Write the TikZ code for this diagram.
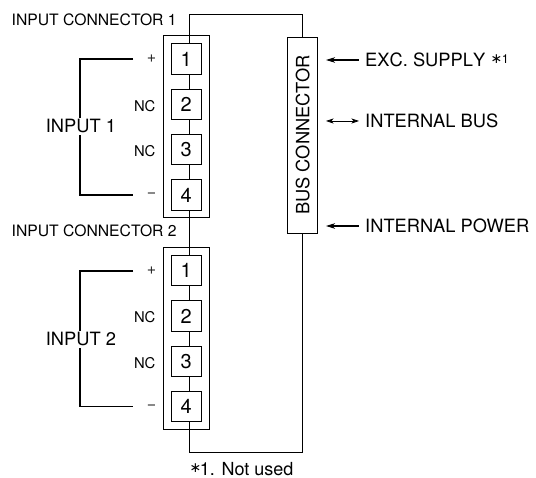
\documentclass[tikz,border=0pt]{standalone}
\usepackage{fontspec}
\setmainfont{TeX Gyre Heros}
\newfontfamily\symfont{DejaVu Sans}
\usetikzlibrary{arrows.meta}
\tikzset{
  x=1pt,y=-1pt,
  wire/.style={line width=0.75pt,black},
  bracket/.style={line width=1.15pt,black},
  pointer/.style={line width=1.1pt,black},
  conbox/.style={draw,line width=0.7pt,minimum width=46pt,minimum height=181.5pt,inner sep=0pt,outer sep=0pt,fill=white},
  termbox/.style={draw,line width=0.8pt,minimum width=30.5pt,minimum height=30.3pt,inner sep=0pt,outer sep=0pt,fill=white,font=\fontsize{20}{20}\selectfont},
  busbox/.style={draw,line width=0.75pt,minimum width=30.4pt,minimum height=196pt,inner sep=0pt,outer sep=0pt,fill=white},
  small/.style={anchor=base west,inner sep=0pt,font=\fontsize{15.7}{16}\selectfont},
  nc/.style={anchor=base east,inner sep=0pt,font=\fontsize{14.8}{15}\selectfont},
  sign/.style={inner sep=0pt,font=\fontsize{16}{16}\selectfont,text=black!85},
  big/.style={anchor=base west,inner sep=0pt,font=\fontsize{18.3}{19}\selectfont},
}
\newcommand{\starnote}{\raisebox{2.6pt}{\symfont\fontsize{14}{14}\selectfont ∗}}
\begin{document}
\begin{tikzpicture}
\useasboundingbox (0,0) rectangle (536,478);
% routing points
\coordinate (topL) at (189,14.5);
\coordinate (topR) at (302.7,14.5);
\coordinate (botL) at (189,452);
\coordinate (botR) at (302.7,452);
% main wire behind the boxes
\draw[wire] (botL) -- (topL) -- (topR);
\draw[wire] (botL) -- (botR) -- (topR);
% connector bodies with terminals
\node[conbox] (c1) at (186.3,126.5) {};
\node[conbox] (c2) at (186.3,338.5) {};
\draw[wire] (189,36) -- (189,217);
\draw[wire] (189,247.7) -- (189,429.3);
\node[termbox] (a1) at (186.3,59) {1};
\node[termbox] (a2) at (186.3,104.3) {2};
\node[termbox] (a3) at (186.3,149.5) {3};
\node[termbox] (a4) at (186.3,195) {4};
\node[termbox] (b1) at (186.3,270.7) {1};
\node[termbox] (b2) at (186.3,316) {2};
\node[termbox] (b3) at (186.3,361.2) {3};
\node[termbox] (b4) at (186.3,406.7) {4};
% bus connector
\node[busbox] (bus) at (302.5,135) {};
\node[rotate=90,inner sep=0pt,font=\fontsize{18.3}{19}\selectfont] (bustext) at (302.7,135) {BUS CONNECTOR};
% connector titles
\node[small] (t1) at (11.5,26) {INPUT CONNECTOR 1};
\node[small] (t2) at (11.5,237) {INPUT CONNECTOR 2};
% brackets
\coordinate (p1) at (133,59);
\coordinate (k1) at (80,59);
\coordinate (k2) at (80,195);
\coordinate (m1) at (133,195);
\coordinate (p2) at (133,271);
\coordinate (k3) at (80,271);
\coordinate (k4) at (80,406.5);
\coordinate (m2) at (133,406.5);
\draw[bracket] (p1) -- (k1) -- (k2) -- (m1);
\draw[bracket] (p2) -- (k3) -- (k4) -- (m2);
\node[big,fill=white,inner ysep=2pt] (i1) at (45.7,133) {INPUT 1};
\node[big,fill=white,inner ysep=2pt] (i2) at (45.7,346) {INPUT 2};
% pin labels
\node[sign] (s1) at (151.5,59) {+};
\node[sign] (s2) at (151.5,195.5) {−};
\node[sign] (s3) at (151.5,271) {+};
\node[sign] (s4) at (151.5,407) {−};
\node[nc] (n1) at (155.5,111.5) {NC};
\node[nc] (n2) at (155.5,156.7) {NC};
\node[nc] (n3) at (155.5,323) {NC};
\node[nc] (n4) at (155.5,368.3) {NC};
% right side signals
\node[big] (exc) at (365,66.5) {\addfontfeatures{Kerning=Off}EXC. SUPPLY\hspace{5.5pt}\starnote\hspace{-0.5pt}\raisebox{2.5pt}{\fontsize{12.5}{13}\selectfont 1}};
\node[big] (ibus) at (365,127.3) {INTERNAL BUS};
\node[big] (ipow) at (365,232.5) {INTERNAL POWER};
\coordinate (e1) at (326,60);
\coordinate (e2) at (359,60);
\coordinate (f1) at (326,121);
\coordinate (f2) at (359,121);
\coordinate (g1) at (326,226);
\coordinate (g2) at (359,226);
\draw[pointer,{Stealth[length=9pt,width=5.5pt,inset=2.5pt]}-] (e1) -- (e2);
\draw[line width=0.7pt,{Stealth[length=7.5pt,width=5pt,inset=2pt]}-{Stealth[length=7.5pt,width=5pt,inset=2pt]}] (f1) -- (f2);
\draw[pointer,{Stealth[length=9pt,width=5.5pt,inset=2.5pt]}-] (g1) -- (g2);
% footnote
\node[big] (note) at (189.5,475.5) {\starnote\hspace{-1.5pt}{\fontsize{18}{19}\selectfont 1. Not used}};
\end{tikzpicture}
\end{document}
